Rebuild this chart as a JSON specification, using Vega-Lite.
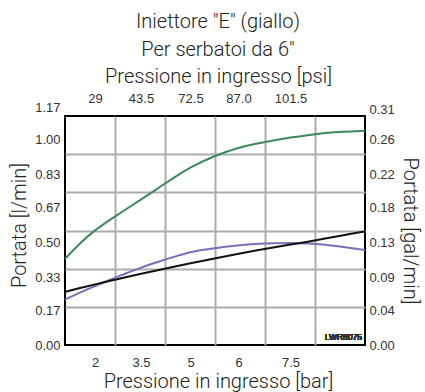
{
  "$schema": "https://vega.github.io/schema/vega-lite/v6.json",
  "width": 300,
  "height": 229,
  "autosize": {"type": "none"},
  "padding": {"left": 65, "top": 116, "right": 60, "bottom": 47},
  "background": "white",
  "title": {
    "text": ["Iniettore \"E\" (giallo)", "Per serbatoi da 6\""],
    "font": "Roboto",
    "fontSize": 20,
    "fontWeight": 300,
    "color": "#222222",
    "lineHeight": 28,
    "anchor": "middle",
    "offset": 6,
    "dx": 3
  },
  "config": {
    "view": {"stroke": "#000000", "strokeWidth": 2},
    "axis": {
      "labelFont": "Liberation Sans",
      "labelFontSize": 13,
      "labelColor": "#333333",
      "titleFont": "Roboto",
      "titleFontSize": 20,
      "titleFontWeight": 300,
      "titleColor": "#222222",
      "ticks": false,
      "tickSize": 0,
      "domain": false,
      "grid": false,
      "labelFlush": false,
      "labelOverlap": false
    }
  },
  "data": {
    "values": [
      {"pressione": 1.0, "portata": 0.420, "serie": "verde"},
      {"pressione": 1.5, "portata": 0.498, "serie": "verde"},
      {"pressione": 2.0, "portata": 0.561, "serie": "verde"},
      {"pressione": 2.5, "portata": 0.612, "serie": "verde"},
      {"pressione": 3.0, "portata": 0.661, "serie": "verde"},
      {"pressione": 3.5, "portata": 0.710, "serie": "verde"},
      {"pressione": 4.0, "portata": 0.763, "serie": "verde"},
      {"pressione": 4.5, "portata": 0.817, "serie": "verde"},
      {"pressione": 5.0, "portata": 0.868, "serie": "verde"},
      {"pressione": 5.5, "portata": 0.923, "serie": "verde"},
      {"pressione": 6.0, "portata": 0.963, "serie": "verde"},
      {"pressione": 6.5, "portata": 0.982, "serie": "verde"},
      {"pressione": 7.0, "portata": 0.998, "serie": "verde"},
      {"pressione": 7.5, "portata": 1.012, "serie": "verde"},
      {"pressione": 8.0, "portata": 1.024, "serie": "verde"},
      {"pressione": 8.5, "portata": 1.034, "serie": "verde"},
      {"pressione": 9.0, "portata": 1.041, "serie": "verde"},
      {"pressione": 9.65, "portata": 1.045, "serie": "verde"},
      {"pressione": 1.0, "portata": 0.222, "serie": "viola"},
      {"pressione": 1.5, "portata": 0.256, "serie": "viola"},
      {"pressione": 2.0, "portata": 0.288, "serie": "viola"},
      {"pressione": 2.5, "portata": 0.319, "serie": "viola"},
      {"pressione": 3.0, "portata": 0.349, "serie": "viola"},
      {"pressione": 3.5, "portata": 0.378, "serie": "viola"},
      {"pressione": 4.0, "portata": 0.405, "serie": "viola"},
      {"pressione": 4.5, "portata": 0.430, "serie": "viola"},
      {"pressione": 5.0, "portata": 0.455, "serie": "viola"},
      {"pressione": 5.5, "portata": 0.473, "serie": "viola"},
      {"pressione": 6.0, "portata": 0.486, "serie": "viola"},
      {"pressione": 6.5, "portata": 0.493, "serie": "viola"},
      {"pressione": 7.0, "portata": 0.496, "serie": "viola"},
      {"pressione": 7.5, "portata": 0.498, "serie": "viola"},
      {"pressione": 8.0, "portata": 0.496, "serie": "viola"},
      {"pressione": 8.5, "portata": 0.490, "serie": "viola"},
      {"pressione": 9.0, "portata": 0.479, "serie": "viola"},
      {"pressione": 9.65, "portata": 0.463, "serie": "viola"},
      {"pressione": 1.0, "portata": 0.259, "serie": "nero"},
      {"pressione": 1.5, "portata": 0.278, "serie": "nero"},
      {"pressione": 2.0, "portata": 0.296, "serie": "nero"},
      {"pressione": 2.5, "portata": 0.313, "serie": "nero"},
      {"pressione": 3.0, "portata": 0.330, "serie": "nero"},
      {"pressione": 3.5, "portata": 0.347, "serie": "nero"},
      {"pressione": 4.0, "portata": 0.365, "serie": "nero"},
      {"pressione": 4.5, "portata": 0.381, "serie": "nero"},
      {"pressione": 5.0, "portata": 0.399, "serie": "nero"},
      {"pressione": 5.5, "portata": 0.422, "serie": "nero"},
      {"pressione": 6.0, "portata": 0.445, "serie": "nero"},
      {"pressione": 6.5, "portata": 0.461, "serie": "nero"},
      {"pressione": 7.0, "portata": 0.476, "serie": "nero"},
      {"pressione": 7.5, "portata": 0.490, "serie": "nero"},
      {"pressione": 8.0, "portata": 0.504, "serie": "nero"},
      {"pressione": 8.5, "portata": 0.519, "serie": "nero"},
      {"pressione": 9.0, "portata": 0.535, "serie": "nero"},
      {"pressione": 9.65, "portata": 0.554, "serie": "nero"}
    ]
  },
  "layer": [
    {
      "mark": {"type": "point", "opacity": 0},
      "encoding": {
        "x": {
          "field": "pressione", "type": "quantitative",
          "scale": {"type": "linear", "domain": [1, 2, 3.5, 5, 6, 7.5, 9.65], "range": [0, 30, 76, 125.5, 173.5, 225.5, 300], "nice": false, "zero": false},
          "axis": {"grid": true, "gridColor": "#acacac", "gridWidth": 2, "labels": false, "title": null, "values": [2.652, 4.227, 5.51, 6.764, 8.207]}
        },
        "y": {
          "field": "portata", "type": "quantitative",
          "scale": {"domain": [0, 1.117], "nice": false, "zero": false},
          "axis": {"grid": true, "gridColor": "#acacac", "gridWidth": 2, "labels": false, "title": null, "values": [0.1862, 0.3723, 0.5585, 0.7447, 0.9308]}
        }
      }
    },
    {
      "mark": {"type": "line", "interpolate": "basis", "strokeWidth": 2},
      "encoding": {
        "x": {
          "field": "pressione", "type": "quantitative",
          "scale": {"type": "linear", "domain": [1, 2, 3.5, 5, 6, 7.5, 9.65], "range": [0, 30, 76, 125.5, 173.5, 225.5, 300], "nice": false, "zero": false},
          "axis": {"orient": "bottom", "values": [2, 3.5, 5, 6, 7.5], "labelExpr": "datum.value == 2 ? '2' : datum.value == 3.5 ? '3.5' : datum.value == 5 ? '5' : datum.value == 6 ? '6' : '7.5'", "labelPadding": 11, "title": "Pressione in ingresso [bar]", "titlePadding": 2, "titleX": 153}
        },
        "y": {
          "field": "portata", "type": "quantitative",
          "scale": {"domain": [0, 1.117], "nice": false, "zero": false},
          "axis": {
            "orient": "left",
            "values": [0, 0.17, 0.33, 0.5, 0.67, 0.83, 1.0, 1.117],
            "labelExpr": "datum.value > 1.1 ? '1.17' : format(datum.value, '.2f')",
            "labelOffset": {"condition": {"test": "datum.value > 1.1", "value": -9}, "value": 0},
            "labelPadding": 5,
            "title": "Portata [l/min]",
            "titlePadding": 5,
            "titleY": 109
          }
        },
        "color": {
          "field": "serie", "type": "nominal",
          "scale": {"domain": ["verde", "viola", "nero"], "range": ["#3b8a5e", "#7472bb", "#111111"]},
          "legend": null
        }
      }
    },
    {
      "mark": {"type": "point", "opacity": 0},
      "encoding": {
        "x": {
          "field": "pressione", "type": "quantitative",
          "scale": {"type": "linear", "domain": [1, 2, 3.5, 5, 6, 7.5, 9.65], "range": [0, 30, 76, 125.5, 173.5, 225.5, 300], "nice": false, "zero": false},
          "axis": {
            "orient": "top",
            "values": [2, 3.5, 5, 6, 7.5],
            "labelExpr": "datum.value == 2 ? '29' : datum.value == 3.5 ? '43.5' : datum.value == 5 ? '72.5' : datum.value == 6 ? '87.0' : '101.5'",
            "labelPadding": 11,
            "title": "Pressione in ingresso [psi]",
            "titlePadding": 6,
            "titleX": 153
          }
        },
        "y": {
          "field": "portata", "type": "quantitative",
          "scale": {"domain": [0, 1.117], "nice": false, "zero": false},
          "axis": {
            "orient": "right",
            "values": [0, 0.17, 0.33, 0.5, 0.67, 0.83, 1.0, 1.117],
            "labelExpr": "datum.value > 1.1 ? '0.31' : format(datum.value / 3.785, '.2f')",
            "labelOffset": {"condition": {"test": "datum.value > 1.1", "value": -7}, "value": 0},
            "labelPadding": 4,
            "title": "Portata [gal/min]",
            "titlePadding": 5
          }
        }
      }
    },
    {
      "mark": {"type": "text", "text": "LWR6075", "font": "Liberation Sans", "fontSize": 8.5, "color": "#333333", "align": "right", "baseline": "bottom", "dx": -3, "dy": -3},
      "encoding": {
        "x": {"datum": 9.65, "type": "quantitative", "axis": null},
        "y": {"datum": 0, "type": "quantitative", "axis": null}
      }
    }
  ],
  "resolve": {"axis": {"x": "independent", "y": "independent"}}
}
